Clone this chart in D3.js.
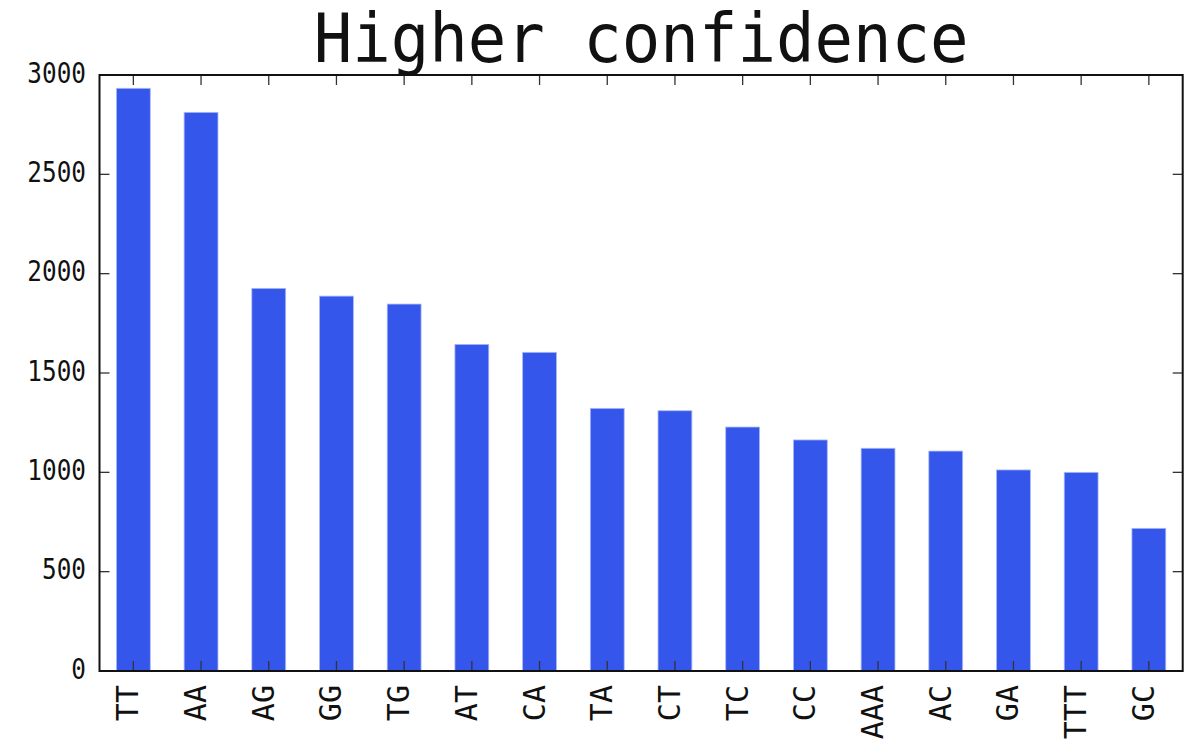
<!DOCTYPE html>
<html>
<head>
<meta charset="utf-8">
<script src="https://cdn.jsdelivr.net/npm/d3@7"></script>
<style>
  body { margin: 0; background: #fff; }
  text { font-family: "DejaVu Sans Mono", monospace; fill: #111; }
</style>
</head>
<body>
<svg id="chart" width="1192" height="741"></svg>
<script>
// counts
var motifs = ["TT", "AA", "AG", "GG", "TG", "AT", "CA", "TA", "CT", "TC", "CC", "AAA", "AC", "GA", "TTT", "GC"];
var counts = [2933, 2812, 1926, 1887, 1847, 1644, 1604, 1322, 1310, 1228, 1163, 1121, 1107, 1012, 1000, 718];
var yTicks = [0, 500, 1000, 1500, 2000, 2500, 3000];
var title = "Higher confidence";

var svg = d3.select("#chart");
var plotL = 99.5, plotR = 1182.7, plotT = 75, plotB = 671;

var x = d3.scaleBand()
    .domain(motifs)
    .range([plotL, plotR])
    .paddingInner(0.5)
    .paddingOuter(0.25);

var y = d3.scaleLinear()
    .domain([0, 3000])
    .range([plotB, plotT]);

// bars
svg.append("g")
  .selectAll("rect")
  .data(counts)
  .enter().append("rect")
    .attr("x", function(d, i) { return x(motifs[i]); })
    .attr("y", function(d) { return y(d); })
    .attr("width", x.bandwidth())
    .attr("height", function(d) { return y(0) - y(d); })
    .attr("fill", "#3456eb")
    .attr("stroke", "#a9b8f5")
    .attr("stroke-width", 0.8);

// ticks pointing inward on all four sides
var tk = svg.append("g").attr("stroke", "#333").attr("stroke-width", 1.3);
motifs.forEach(function(m) {
  var cx = x(m) + x.bandwidth() / 2;
  tk.append("line").attr("x1", cx).attr("x2", cx).attr("y1", plotB).attr("y2", plotB - 10);
  tk.append("line").attr("x1", cx).attr("x2", cx).attr("y1", plotT).attr("y2", plotT + 10);
});
yTicks.forEach(function(v) {
  tk.append("line").attr("x1", plotL).attr("x2", plotL + 10).attr("y1", y(v)).attr("y2", y(v));
  tk.append("line").attr("x1", plotR).attr("x2", plotR - 10).attr("y1", y(v)).attr("y2", y(v));
});

// frame
svg.append("rect")
  .attr("x", plotL).attr("y", plotT)
  .attr("width", plotR - plotL).attr("height", plotB - plotT)
  .attr("fill", "none")
  .attr("stroke", "#111")
  .attr("stroke-width", 2);

// y labels
svg.append("g")
  .selectAll("text")
  .data(yTicks)
  .enter().append("text")
    .attr("transform", function(d) { return "translate(86," + (y(d) - 2.5) + ") scale(0.84,1)"; })
    .attr("text-anchor", "end")
    .attr("dominant-baseline", "central")
    .style("font-size", "29px")
    .text(function(d) { return d; });

// x labels, rotated
svg.append("g")
  .selectAll("text")
  .data(motifs)
  .enter().append("text")
    .attr("transform", function(d) { return "translate(" + (x(d) + x.bandwidth() / 2 + 5) + ",685) rotate(-90)"; })
    .attr("text-anchor", "end")
    .style("font-size", "30px")
    .text(function(d) { return d; });

// title
svg.append("text")
  .attr("transform", "translate(" + ((plotL + plotR) / 2) + ",62) scale(1,1.05)")
  .attr("text-anchor", "middle")
  .style("font-size", "64px")
  .text(title);
</script>
</body>
</html>
